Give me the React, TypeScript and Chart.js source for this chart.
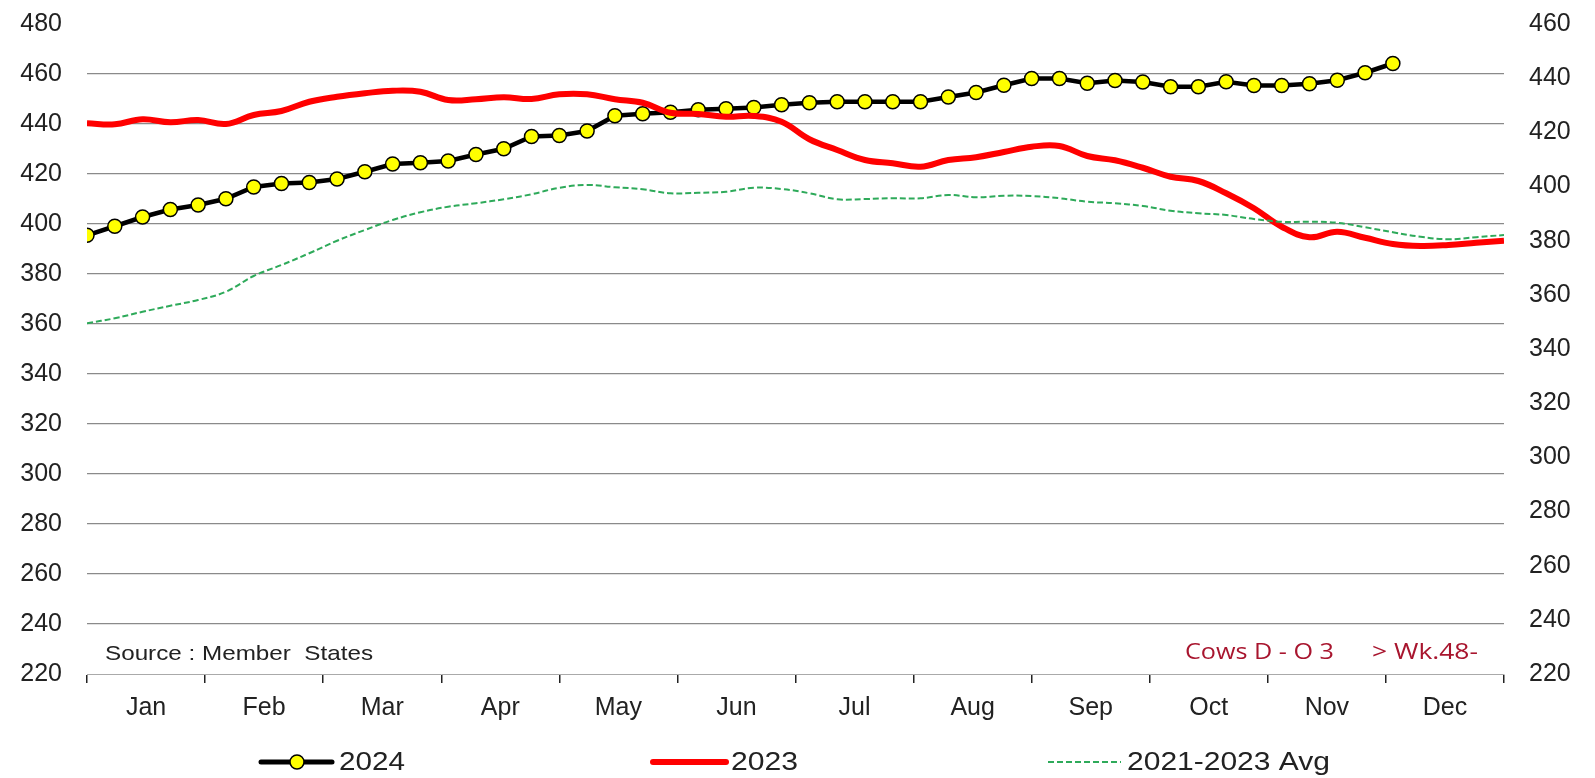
import React, { useEffect, useRef } from 'react';
import { Chart, registerables } from 'chart.js';

Chart.register(...registerables);

const months = ['Jan', 'Feb', 'Mar', 'Apr', 'May', 'Jun', 'Jul', 'Aug', 'Sep', 'Oct', 'Nov', 'Dec'];

const weeks = [
  1, 2, 3, 4, 5, 6, 7, 8, 9, 10, 11, 12, 13, 14, 15, 16, 17, 18, 19, 20, 21, 22, 23, 24, 25, 26,
  27, 28, 29, 30, 31, 32, 33, 34, 35, 36, 37, 38, 39, 40, 41, 42, 43, 44, 45, 46, 47, 48, 49, 50, 51, 52,
];

const values2024 = [
  395.5, 399.1, 402.8, 405.8, 407.6, 410.1, 414.8, 416.2, 416.6, 418,
  420.9, 424, 424.5, 425.2, 427.8, 430.1, 435, 435.4, 437.2, 443.3,
  444.1, 444.7, 445.7, 446.1, 446.6, 447.7, 448.5, 448.9, 448.9, 448.9,
  448.9, 450.8, 452.6, 455.5, 458.2, 458.2, 456.3, 457.4, 456.8, 454.9,
  454.9, 456.9, 455.4, 455.4, 456.1, 457.5, 460.5, 464.2,
];

const values2023 = [
  440.3, 439.9, 441.9, 440.7, 441.6, 440, 443.6, 445.2, 448.9, 450.9,
  452.3, 453.3, 452.9, 449.6, 449.9, 450.7, 450, 451.9, 451.9, 449.9,
  448.5, 444.5, 444, 442.9, 443.2, 440.9, 433.9, 429.6, 425.6, 424.3,
  422.9, 425.6, 426.7, 428.8, 430.9, 431.2, 427.2, 425.5, 422.5, 418.9,
  417.2, 412.3, 406.3, 398.9, 394.7, 396.9, 394.5, 392, 391.2, 391.6, 392.5, 393.3,
];

const valuesAvg = [
  360.3, 362.3, 364.9, 367.3, 369.6, 372.9, 379.2, 383.6, 388.3, 393.3,
  397.6, 401.6, 404.7, 406.9, 408.3, 409.9, 411.9, 414.5, 415.6, 414.7,
  413.9, 412.3, 412.5, 412.9, 414.5, 414, 412.3, 409.9, 410, 410.3,
  410.3, 411.6, 410.7, 411.3, 411.2, 410.3, 408.9, 408.3, 407.2, 405.3,
  404.3, 403.6, 402, 400.9, 400.9, 400.5, 398.7, 396.7, 394.9, 393.9, 394.7, 395.6,
];

const seriesLabels = ['2024', '2023', '2021-2023 Avg'];
const sourceText = 'Source : Member  States';
const noteLeft = 'Cows D - O 3';
const noteRight = '> Wk.48-';

const FONT = '"Liberation Sans", Arial, sans-serif';
const TEXT = '#222222';
const RED = '#ff0000';
const GREEN = '#2eaa5a';
const NOTE = '#a8152e';

const overlayPlugin = {
  id: 'overlay',
  afterDraw(chart: any) {
    const ctx: CanvasRenderingContext2D = chart.ctx;
    const text = (s: string, x: number, y: number, font: string, color: string, width: number) => {
      ctx.save();
      ctx.font = font;
      ctx.fillStyle = color;
      ctx.textBaseline = 'alphabetic';
      ctx.textAlign = 'left';
      const scale = width / ctx.measureText(s).width;
      ctx.translate(x, y);
      ctx.scale(scale, 1);
      ctx.fillText(s, 0, 0);
      ctx.restore();
    };
    text(sourceText, 105, 660, `21px ${FONT}`, TEXT, 268);
    text(noteLeft, 1185, 659, `22px "Open Sans", "Noto Sans", sans-serif`, NOTE, 149);
    text(noteRight, 1372, 659, `22px "Open Sans", "Noto Sans", sans-serif`, NOTE, 106);

    const ly = 762;
    ctx.save();
    ctx.lineCap = 'round';
    ctx.strokeStyle = '#000';
    ctx.lineWidth = 5;
    ctx.beginPath();
    ctx.moveTo(261, ly);
    ctx.lineTo(332, ly);
    ctx.stroke();
    ctx.beginPath();
    ctx.arc(297, ly, 7, 0, Math.PI * 2);
    ctx.fillStyle = '#ffff00';
    ctx.fill();
    ctx.lineWidth = 1.5;
    ctx.stroke();
    ctx.strokeStyle = RED;
    ctx.lineWidth = 6;
    ctx.beginPath();
    ctx.moveTo(653, ly);
    ctx.lineTo(726, ly);
    ctx.stroke();
    ctx.lineCap = 'butt';
    ctx.strokeStyle = GREEN;
    ctx.lineWidth = 2;
    ctx.setLineDash([6, 3]);
    ctx.beginPath();
    ctx.moveTo(1048, ly);
    ctx.lineTo(1121, ly);
    ctx.stroke();
    ctx.restore();

    text(seriesLabels[0], 339, 770, `25px ${FONT}`, TEXT, 66);
    text(seriesLabels[1], 731, 770, `25px ${FONT}`, TEXT, 67);
    text(seriesLabels[2], 1127, 770, `25px ${FONT}`, TEXT, 203);
  },
};

export default function App() {
  const ref = useRef<HTMLCanvasElement | null>(null);

  useEffect(() => {
    if (!ref.current) return;
    const chart = new Chart(ref.current, {
      type: 'line',
      data: {
        datasets: [
          {
            label: seriesLabels[0],
            data: values2024.map((v, i) => ({ x: weeks[i], y: v })),
            borderColor: '#000000',
            borderWidth: 4.5,
            pointRadius: 7,
            pointBackgroundColor: '#ffff00',
            pointBorderColor: '#000000',
            pointBorderWidth: 1.5,
            tension: 0,
            order: 2,
            xAxisID: 'x',
            yAxisID: 'y',
          },
          {
            label: seriesLabels[1],
            data: values2023.map((v, i) => ({ x: weeks[i], y: v })),
            borderColor: RED,
            borderWidth: 6,
            pointRadius: 0,
            tension: 0.4,
            order: 1,
            xAxisID: 'x',
            yAxisID: 'y',
          },
          {
            label: seriesLabels[2],
            data: valuesAvg.map((v, i) => ({ x: weeks[i], y: v })),
            borderColor: GREEN,
            borderWidth: 2,
            borderDash: [6, 3],
            pointRadius: 0,
            tension: 0.4,
            order: 0,
            xAxisID: 'x',
            yAxisID: 'y',
          },
        ],
      },
      options: {
        animation: false,
        responsive: false,
        devicePixelRatio: 1,
        layout: { padding: { left: 0, right: 0, top: 24, bottom: 0 } },
        plugins: {
          legend: { display: false },
          tooltip: { enabled: false },
        },
        scales: {
          x: {
            type: 'linear',
            min: 1,
            max: 52,
            display: false,
          },
          xm: {
            type: 'category',
            labels: months,
            position: 'bottom',
            offset: true,
            grid: {
              offset: true,
              drawOnChartArea: false,
              drawTicks: true,
              tickLength: 9,
              tickColor: '#222222',
              color: '#222222',
              lineWidth: 1.5,
            },
            border: { display: true, color: '#aaaaaa', width: 1, dash: [3, 2] },
            ticks: {
              color: TEXT,
              font: { family: FONT, size: 25 },
              padding: 10,
              maxRotation: 0,
              autoSkip: false,
            },
            afterFit: (s: any) => {
              s.height = 104;
            },
          },
          y: {
            type: 'linear',
            position: 'left',
            min: 220,
            max: 480,
            ticks: {
              stepSize: 20,
              color: TEXT,
              font: { family: FONT, size: 25 },
              padding: 25,
            },
            grid: {
              drawTicks: false,
              color: (c: any) =>
                c.tick && (c.tick.value === 220 || c.tick.value === 480) ? 'rgba(0,0,0,0)' : '#8a8a8a',
              lineWidth: 1.2,
            },
            border: { display: false },
            afterFit: (s: any) => {
              s.width = 87;
              s.paddingTop = 0;
              s.paddingBottom = 0;
            },
          },
          y2: {
            type: 'linear',
            position: 'right',
            min: 220,
            max: 460,
            ticks: {
              stepSize: 20,
              color: TEXT,
              font: { family: FONT, size: 25 },
              padding: 25,
            },
            grid: { drawOnChartArea: false, drawTicks: false },
            border: { display: false },
            afterFit: (s: any) => {
              s.width = 91;
              s.paddingTop = 0;
              s.paddingBottom = 0;
            },
          },
        },
      },
      plugins: [overlayPlugin],
    } as any);
    return () => chart.destroy();
  }, []);

  return (
    <div style={{ position: 'absolute', left: 0, top: 0, width: 1595, height: 778, background: '#fff' }}>
      <canvas ref={ref} width={1595} height={778} style={{ display: 'block', width: 1595, height: 778 }} />
    </div>
  );
}
